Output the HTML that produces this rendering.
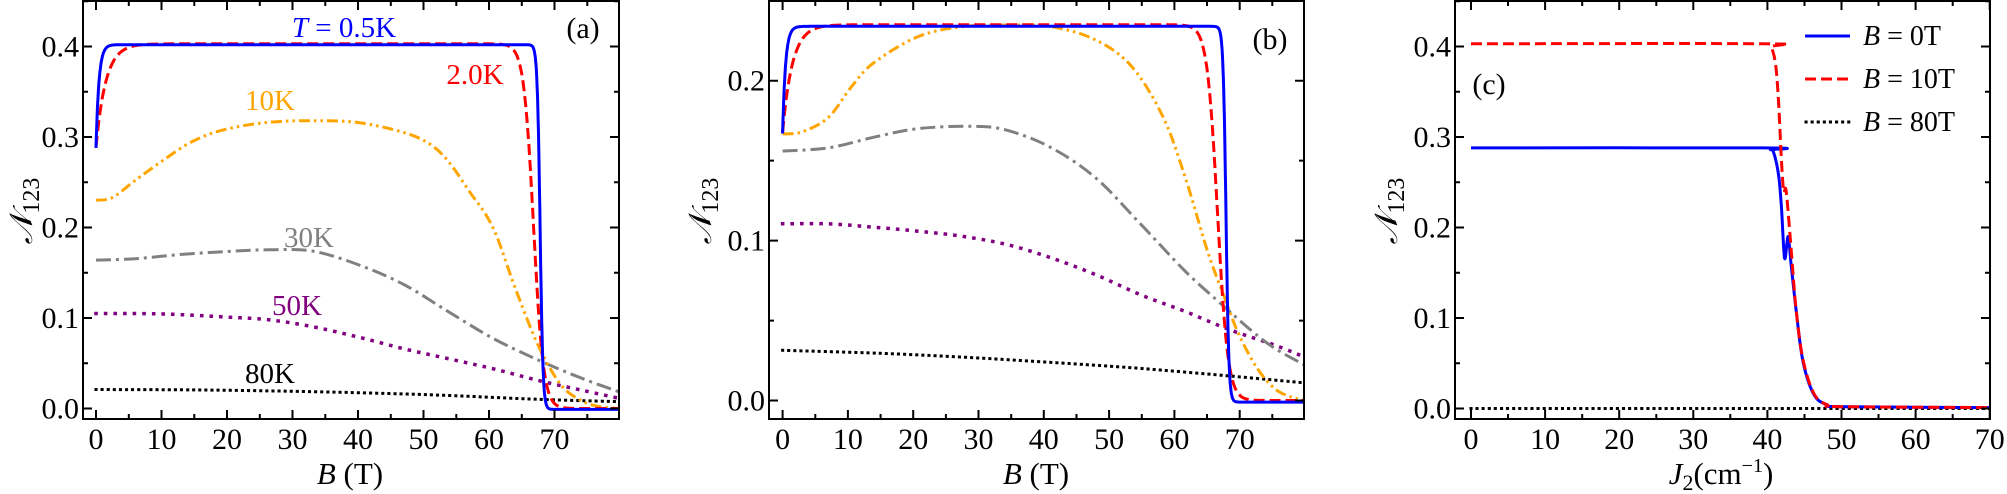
<!DOCTYPE html>
<html><head><meta charset="utf-8">
<style>
html,body{margin:0;padding:0;background:#fff;}
svg{display:block;font-family:"Liberation Serif","DejaVu Serif",serif;}
svg text{font-family:"Liberation Serif","DejaVu Serif",serif;}
</style></head><body>
<svg id="s" width="2007" height="494" viewBox="0 0 2007 494" font-family="Liberation Serif, DejaVu Serif, serif" xmlns="http://www.w3.org/2000/svg"></svg>
<script>
const S=document.getElementById('s');
let out='';
const FF='font-family="Liberation Serif, DejaVu Serif, serif"';
function catmull(pts){
  let d='M'+pts[0][0].toFixed(1)+','+pts[0][1].toFixed(1);
  for(let i=0;i<pts.length-1;i++){
    const p0=pts[Math.max(i-1,0)],p1=pts[i],p2=pts[i+1],p3=pts[Math.min(i+2,pts.length-1)];
    const c1=[p1[0]+(p2[0]-p0[0])/6,p1[1]+(p2[1]-p0[1])/6];
    const c2=[p2[0]-(p3[0]-p1[0])/6,p2[1]-(p3[1]-p1[1])/6];
    d+=' C'+c1[0].toFixed(1)+','+c1[1].toFixed(1)+' '+c2[0].toFixed(1)+','+c2[1].toFixed(1)+' '+p2[0].toFixed(1)+','+p2[1].toFixed(1);
  }
  return d;
}
function panel(P){
  const X=v=>P.x0+v*P.sx, Y=v=>P.y0-v*P.sy;
  out+=`<defs><clipPath id="c${P.id}"><rect x="${P.L}" y="${P.T}" width="${P.R-P.L}" height="${P.B-P.T}"/></clipPath></defs>`;
  out+=`<g clip-path="url(#c${P.id})">`;
  for(const s of P.series){
    let pts;
    if(s.f){pts=[];for(let v=s.a;v<=s.b+1e-9;v+=s.step)pts.push([X(v),Y(s.f(v))]);
      let d='M'+pts.map(p=>p[0].toFixed(1)+','+p[1].toFixed(1)).join(' L');
      out+=`<path d="${d}" fill="none" stroke="${s.c}" stroke-width="${s.w||3}" stroke-dasharray="${s.da||'none'}" stroke-linecap="${s.cap||'butt'}" stroke-linejoin="round"/>`;
    } else {
      pts=s.p.map(q=>[X(q[0]),Y(q[1])]);
      out+=`<path d="${catmull(pts)}" fill="none" stroke="${s.c}" stroke-width="${s.w||3}" stroke-dasharray="${s.da||'none'}" stroke-linecap="${s.cap||'butt'}"/>`;
    }
  }
  out+='</g>';
  out+=`<rect x="${P.L}" y="${P.T}" width="${P.R-P.L}" height="${P.B-P.T}" fill="none" stroke="#000" stroke-width="2"/>`;
  let t='';
  for(let v=P.xmin;v<=P.xmax+1e-9;v+=P.xminor){
    const x=X(v); if(x<P.L||x>P.R)continue;
    const maj=Math.abs(v/P.xmajor-Math.round(v/P.xmajor))<1e-6;
    const l=maj?9:5;
    t+=`M${x.toFixed(1)},${P.B}v-${l}M${x.toFixed(1)},${P.T}v${l}`;
    if(maj&&v<=P.xlabmax) out+=`<text ${FF} x="${x.toFixed(1)}" y="449" font-size="30" text-anchor="middle">${Math.round(v)}</text>`;
  }
  for(let v=0;v<=P.ymax+1e-9;v+=P.yminor){
    const y=Y(v); if(y<P.T||y>P.B)continue;
    const maj=Math.abs(v/P.ymajor-Math.round(v/P.ymajor))<1e-6;
    const l=maj?9:5;
    t+=`M${P.L},${y.toFixed(1)}h${l}M${P.R},${y.toFixed(1)}h-${l}`;
    if(maj) out+=`<text ${FF} x="${P.L-4}" y="${(y+10).toFixed(1)}" font-size="30" text-anchor="end">${v.toFixed(1)}</text>`;
  }
  out+=`<path d="${t}" stroke="#000" stroke-width="2"/>`;
  out+=`<g transform="translate(${P.yl},211) rotate(-90)"><text ${FF} x="0" y="0" font-size="32" text-anchor="middle"><tspan font-style="italic">𝒩</tspan><tspan font-size="24" dy="7">123</tspan></text></g>`;
}
const sig=(v,c,w)=>1/(1+Math.exp((v-c)/w));
const DA={red:'11 5',org:'11 4 2.5 4 2.5 4',gry:'15 5 3 5',pur:'0.1 9.5',blk:'0.1 6'};
panel({id:'a',L:83,R:619,T:1,B:419,x0:96,sx:6.55,y0:408.5,sy:905,xmin:0,xmax:80,xminor:5,xmajor:10,xlabmax:70,ymax:0.45,yminor:0.05,ymajor:0.1,yl:32,
series:[
 {c:'#000',da:DA.blk,cap:'square',w:3,p:[[0,0.021],[15,0.0205],[30,0.019],[45,0.0165],[55,0.014],[68,0.01],[80,0.0075]]},
 {c:'#800080',da:DA.pur,cap:'square',w:3.5,p:[[0,0.105],[10,0.1045],[20,0.101],[26.4,0.098],[33,0.0905],[40,0.079],[47,0.066],[53.8,0.055],[60.6,0.044],[67.5,0.031],[74.3,0.02],[80,0.011]]},
 {c:'#808080',da:DA.gry,w:3,p:[[0,0.164],[6,0.1655],[12.7,0.170],[20,0.1735],[26.4,0.1754],[33,0.174],[40,0.159],[47,0.137],[53.8,0.107],[60.6,0.0776],[67.5,0.0536],[74.3,0.033],[80,0.018]]},
 {c:'#FFA500',da:DA.org,w:3,p:[[0,0.23],[2.5,0.233],[5.8,0.251],[10,0.273],[14.7,0.295],[19.5,0.308],[26,0.316],[33,0.318],[40,0.316],[47,0.305],[51,0.292],[53.8,0.273],[57,0.24],[60.6,0.2],[64,0.133],[67.5,0.07],[71,0.026],[74.3,0.008],[77,0.002],[80,0.0]]},
 {c:'#ff0000',da:DA.red,w:3,f:v=>(0.289+0.114*(1-Math.exp(-v/1.5)))*sig(v,66.8,0.75),a:0,b:80,step:0.1},
 {c:'#0000ff',w:3,f:v=>(0.289+0.114*(1-Math.exp(-v/0.45)))*sig(v,67.8,0.22)-0.001,a:0,b:80,step:0.05}
]});
panel({id:'b',L:769,R:1304,T:1,B:419,x0:782.6,sx:6.53,y0:400.5,sy:1599,xmin:0,xmax:80,xminor:5,xmajor:10,xlabmax:70,ymax:0.25,yminor:0.05,ymajor:0.1,yl:711,
series:[
 {c:'#000',da:DA.blk,cap:'square',w:3,p:[[0,0.0314],[15,0.0295],[30,0.0266],[45,0.0228],[55,0.020],[68,0.0155],[80,0.011]]},
 {c:'#800080',da:DA.pur,cap:'square',w:3.5,p:[[0,0.1105],[7,0.1105],[13.9,0.1084],[20.7,0.1059],[27.5,0.1027],[34.4,0.0975],[41.2,0.0891],[48,0.0786],[54.9,0.066],[61.7,0.0556],[68.6,0.044],[75.4,0.0346],[80,0.027]]},
 {c:'#808080',da:DA.gry,w:3,p:[[0,0.156],[7,0.158],[13.9,0.1646],[20.7,0.170],[28.9,0.1715],[34.4,0.169],[41.2,0.158],[48,0.139],[54.9,0.110],[61.7,0.0807],[67.9,0.0577],[72,0.043],[75.4,0.0325],[80,0.022]]},
 {c:'#FFA500',da:DA.org,w:3,p:[[0,0.1667],[3,0.168],[7,0.177],[10.5,0.196],[13.9,0.211],[20.7,0.2275],[27.5,0.2338],[34.4,0.2348],[41.2,0.2338],[48,0.2254],[53.5,0.2086],[58.3,0.177],[61.7,0.139],[65.1,0.093],[67.9,0.062],[69.9,0.041],[72.7,0.020],[75.4,0.0073],[78,0.002],[80,0]]},
 {c:'#ff0000',da:DA.red,w:3,f:v=>(0.168+0.067*(1-Math.exp(-v/1.5)))*sig(v,66.6,0.8),a:0,b:80,step:0.1},
 {c:'#0000ff',w:3,f:v=>(0.168+0.067*(1-Math.exp(-v/0.45)))*sig(v,67.9,0.22)-0.001,a:0,b:80,step:0.05}
]});
const bl=[[0,0.288],[39.5,0.288],[40.4,0.286],[40.8,0.284],[41.5,0.2585],[41.9,0.2216],[42.2,0.177],[42.4,0.166],[42.8,0.19],[43.2,0.159],[43.9,0.107],[44.8,0.052],[46.3,0.015],[48.1,0.004],[50,0.002],[70,0.001]];
const rd=[[0,0.403],[39.5,0.403],[40.5,0.399],[41.1,0.380],[41.5,0.34],[41.9,0.273],[42.2,0.24],[42.5,0.242],[42.9,0.207],[43.4,0.155],[43.9,0.107],[44.8,0.054],[46.3,0.016],[48.1,0.004],[50,0.002],[70,0.001]];
panel({id:'c',L:1455,R:1990,T:1,B:419,x0:1471,sx:7.41,y0:408.5,sy:905,xmin:0,xmax:70,xminor:5,xmajor:10,xlabmax:70,ymax:0.45,yminor:0.05,ymajor:0.1,yl:1397,
series:[
 {c:'#000',da:DA.blk,cap:'square',w:3,p:[[0,0],[70,0]]},
 {c:'#0000ff',w:3,p:bl},
 {c:'#ff0000',da:DA.red,w:3,p:rd}
]});
out+=`<text ${FF} x="344" y="37" font-size="29" fill="#0000ff" text-anchor="middle"><tspan font-style="italic">T</tspan> = 0.5K</text>`;
out+=`<text ${FF} x="475" y="84" font-size="29" fill="#ff0000" text-anchor="middle">2.0K</text>`;
out+=`<text ${FF} x="270" y="110" font-size="29" fill="#FFA500" text-anchor="middle">10K</text>`;
out+=`<text ${FF} x="309" y="247" font-size="29" fill="#808080" text-anchor="middle">30K</text>`;
out+=`<text ${FF} x="297" y="315" font-size="29" fill="#800080" text-anchor="middle">50K</text>`;
out+=`<text ${FF} x="270" y="383" font-size="29" fill="#000" text-anchor="middle">80K</text>`;
out+=`<text ${FF} x="583" y="38" font-size="30" text-anchor="middle">(a)</text>`;
out+=`<text ${FF} x="1270" y="49" font-size="30" text-anchor="middle">(b)</text>`;
out+=`<text ${FF} x="1489" y="94" font-size="30" text-anchor="middle">(c)</text>`;
out+=`<text ${FF} x="350" y="484" font-size="31" text-anchor="middle"><tspan font-style="italic">B</tspan> (T)</text>`;
out+=`<text ${FF} x="1036" y="484" font-size="31" text-anchor="middle"><tspan font-style="italic">B</tspan> (T)</text>`;
out+=`<text ${FF} x="1721" y="484" font-size="31" text-anchor="middle"><tspan font-style="italic">J</tspan><tspan font-size="22" dy="6">2</tspan><tspan dy="-6">(cm</tspan><tspan font-size="20" dy="-12">−1</tspan><tspan dy="12">)</tspan></text>`;
out+=`<path d="M1805,36H1850" stroke="#0000ff" stroke-width="3"/>`;
out+=`<path d="M1805,79H1850" stroke="#ff0000" stroke-width="3" stroke-dasharray="11 5"/>`;
out+=`<path d="M1806,122H1850" stroke="#000" stroke-width="3" stroke-dasharray="0.1 6" stroke-linecap="square"/>`;
out+=`<text ${FF} x="1863" y="45" font-size="28"><tspan font-style="italic">B</tspan> = 0T</text>`;
out+=`<text ${FF} x="1863" y="88" font-size="28"><tspan font-style="italic">B</tspan> = 10T</text>`;
out+=`<text ${FF} x="1863" y="131" font-size="28"><tspan font-style="italic">B</tspan> = 80T</text>`;
S.innerHTML=out;
</script>
</body></html>
